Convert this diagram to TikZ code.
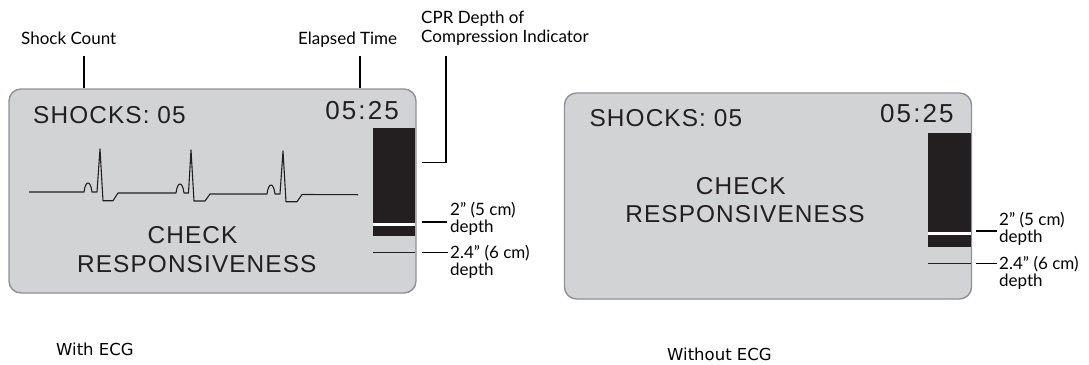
\documentclass[tikz,border=0pt]{standalone}
\usepackage{fontspec}
\newfontfamily\lcdfont[LetterSpace=4.5]{Liberation Sans}
\newfontfamily\timefont[LetterSpace=8]{Liberation Sans}
\newfontfamily\labfont{Lato}
\newfontfamily\capfont{DejaVu Sans}
\definecolor{lcdfill}{HTML}{D1D3D4}
\definecolor{lcdedge}{HTML}{8E919C}
\definecolor{ink}{HTML}{231F20}
\begin{document}
\begin{tikzpicture}[x=1pt,y=-1pt,
  lcd/.style={draw=lcdedge, fill=lcdfill, line width=1.4pt, rounded corners=12pt, outer sep=0pt, inner sep=0pt, anchor=north west},
  lcdtext/.style={inner sep=0pt, text=ink, font=\lcdfont\fontsize{24.4}{29}\selectfont},
  timetext/.style={inner sep=0pt, text=ink, font=\timefont\fontsize{26}{30}\selectfont},
  lab/.style={inner sep=0pt, text=black, anchor=base west, align=left, font=\labfont\fontsize{17}{16.5}\selectfont},
  labwide/.style={lab, font=\labfont\fontsize{17}{19}\selectfont},
  caption/.style={inner sep=0pt, text=black, anchor=base west, font=\capfont\fontsize{16.5}{20}\selectfont},
  leader/.style={line width=1.5pt, black},
  barfill/.style={fill=ink},
  gapfill/.style={fill=white},
  thinline/.style={draw=ink, line width=1pt},
  ecg/.style={draw=ink, line width=1.1pt, line join=round}
]
\useasboundingbox (0,0) rectangle (1089,364);

% ---------------- Left panel (with ECG) ----------------
\node[lcd, minimum width=407pt, minimum height=204pt] (scrA) at (9,89) {};
\node[lcdtext, anchor=base west] (shocksA) at (33,123) {SHOCKS: 05};
\node[timetext, anchor=base east] (timeA) at (399,119) {05:25};
\fill[barfill] (373,128) rectangle (415.3,222.7);
\fill[gapfill] (373,222.7) rectangle (415.3,225.6);
\fill[barfill] (373,225.6) rectangle (415.3,236);
\draw[thinline] (373,252.7) -- (415.3,252.7);
\draw[ecg] (29,192) -- (84,192)
  .. controls (85.5,180) and (90.5,180) .. (92,192) -- (97,192) -- (100,149) -- (103,200.7) -- (113,200.7) -- (118,193) -- (176,193)
  .. controls (177.5,181) and (182.5,181) .. (184,193) -- (188.5,193) -- (191,150) -- (194,201) -- (205,201) -- (210,194) -- (267,194)
  .. controls (268.5,182) and (273.5,182) .. (275,194) -- (280,194) -- (283,151) -- (286,201.7) -- (297,201.7) -- (302,194.5) -- (358,194.7);
\node[lcdtext, anchor=base] (checkA) at (192.5,243.3) {CHECK};
\node[lcdtext, anchor=base] (respA) at (196.8,272.7) {RESPONSIVENESS};

\node[lab] (shockLbl) at (21,44) {Shock Count};
\node[lab] (timeLbl) at (298,44) {Elapsed Time};
\node[labwide] (cprLbl) at (421,42) {CPR Depth of\\Compression Indicator};
\node[lab] (dep5A) at (450,232) {2” (5 cm)\\depth};
\node[lab] (dep6A) at (450,275) {2.4” (6 cm)\\depth};

\coordinate (shockTop) at (84,56);  \coordinate (shockBot) at (84,88);
\coordinate (timeTop) at (360,56);  \coordinate (timeBot) at (360,88);
\coordinate (cprTop) at (446,56);   \coordinate (cprCorner) at (446,162.5); \coordinate (cprEnd) at (421.7,162.5);
\coordinate (d5As) at (421.7,222);  \coordinate (d5Ae) at (447,222);
\coordinate (d6As) at (421.7,252.7);\coordinate (d6Ae) at (448,252.7);
\draw[leader] (shockTop) -- (shockBot);
\draw[leader] (timeTop) -- (timeBot);
\draw[leader] (cprTop) -- (cprCorner) -- (cprEnd);
\draw[leader] (d5As) -- (d5Ae);
\draw[leader] (d6As) -- (d6Ae);

\node[caption] (withLbl) at (56,355) {With ECG};

% ---------------- Right panel (without ECG) ----------------
\node[lcd, minimum width=407pt, minimum height=206pt] (scrB) at (564.5,93) {};
\node[lcdtext, anchor=base west] (shocksB) at (589.4,126.6) {SHOCKS: 05};
\node[timetext, anchor=base east] (timeB) at (953.8,122.1) {05:25};
\fill[barfill] (928,132.7) rectangle (970.8,232);
\fill[gapfill] (928,232) rectangle (970.8,235.2);
\fill[barfill] (928,235.2) rectangle (970.8,246.5);
\draw[thinline] (928,263.7) -- (970.8,263.7);
\node[lcdtext, anchor=base] (checkB) at (740.8,194) {CHECK};
\node[lcdtext, anchor=base] (respB) at (745,222.3) {RESPONSIVENESS};

\node[lab] (dep5B) at (999,242) {2” (5 cm)\\depth};
\node[lab] (dep6B) at (999,286) {2.4” (6 cm)\\depth};
\coordinate (d5Bs) at (976,231);   \coordinate (d5Be) at (997.4,231);
\coordinate (d6Bs) at (976,263.7); \coordinate (d6Be) at (997.4,263.7);
\draw[leader] (d5Bs) -- (d5Be);
\draw[leader] (d6Bs) -- (d6Be);

\node[caption] (withoutLbl) at (667,360) {Without ECG};
\end{tikzpicture}
\end{document}
